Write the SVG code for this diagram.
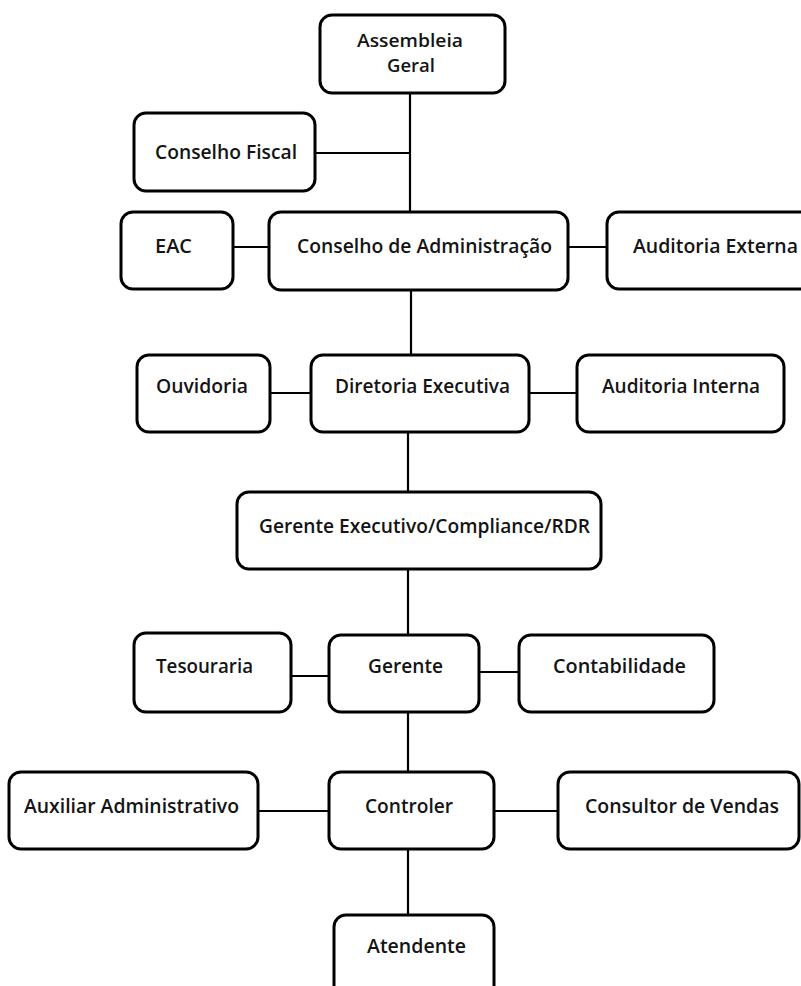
<svg xmlns="http://www.w3.org/2000/svg" width="801" height="986" viewBox="0 0 801 986">
<style>
.box{fill:#fff;stroke:#000;stroke-width:3}
.lbl{font-family:"Open Sans","Liberation Sans",sans-serif;font-weight:600;font-size:20px;fill:#141414}
.sm{font-size:18px}
.con line{stroke:#000;stroke-width:2.2}
</style>
<rect width="801" height="986" fill="#fff"/>
<g class="con" id="connectors">
<line x1="410" y1="93" x2="410" y2="212"/>
<line x1="315" y1="153" x2="410" y2="153"/>
<line x1="233" y1="247" x2="269" y2="247"/>
<line x1="568" y1="247" x2="607" y2="247"/>
<line x1="411" y1="290" x2="411" y2="355"/>
<line x1="270" y1="393" x2="311" y2="393"/>
<line x1="529" y1="393" x2="577" y2="393"/>
<line x1="408" y1="432" x2="408" y2="492"/>
<line x1="408" y1="569" x2="408" y2="635"/>
<line x1="291" y1="676" x2="329" y2="676"/>
<line x1="479" y1="672" x2="519" y2="672"/>
<line x1="408" y1="712" x2="408" y2="772"/>
<line x1="257" y1="811" x2="329" y2="811"/>
<line x1="494" y1="811" x2="558" y2="811"/>
<line x1="408" y1="849" x2="408" y2="915"/>
</g>
<g id="assembleia"><rect class="box" x="320" y="15" width="185" height="78" rx="12"/><text class="lbl sm" x="357" y="47" textLength="106" lengthAdjust="spacingAndGlyphs">Assembleia</text><text class="lbl sm" x="387" y="72" textLength="48" lengthAdjust="spacingAndGlyphs">Geral</text></g>
<g id="conselho-fiscal"><rect class="box" x="134" y="113" width="181" height="78" rx="12"/><text class="lbl" x="155" y="159" textLength="142" lengthAdjust="spacingAndGlyphs">Conselho Fiscal</text></g>
<g id="eac"><rect class="box" x="121" y="212" width="112" height="77" rx="12"/><text class="lbl" x="155" y="253" textLength="37" lengthAdjust="spacingAndGlyphs">EAC</text></g>
<g id="conselho-admin"><rect class="box" x="269" y="212" width="299" height="78" rx="12"/><text class="lbl" x="297" y="253" textLength="255" lengthAdjust="spacingAndGlyphs">Conselho de Administração</text></g>
<g id="auditoria-externa"><rect class="box" x="607" y="212" width="210" height="77" rx="12"/><text class="lbl" x="633" y="253" textLength="165" lengthAdjust="spacingAndGlyphs">Auditoria Externa</text></g>
<g id="ouvidoria"><rect class="box" x="137" y="355" width="133" height="77" rx="12"/><text class="lbl" x="156" y="393" textLength="92" lengthAdjust="spacingAndGlyphs">Ouvidoria</text></g>
<g id="diretoria"><rect class="box" x="311" y="355" width="218" height="77" rx="12"/><text class="lbl" x="335" y="393" textLength="175" lengthAdjust="spacingAndGlyphs">Diretoria Executiva</text></g>
<g id="auditoria-interna"><rect class="box" x="577" y="355" width="207" height="77" rx="12"/><text class="lbl" x="602" y="393" textLength="158" lengthAdjust="spacingAndGlyphs">Auditoria Interna</text></g>
<g id="gerente-executivo"><rect class="box" x="237" y="492" width="364" height="77" rx="12"/><text class="lbl" x="259" y="533" textLength="331" lengthAdjust="spacingAndGlyphs">Gerente Executivo/Compliance/RDR</text></g>
<g id="tesouraria"><rect class="box" x="134" y="633" width="157" height="79" rx="12"/><text class="lbl" x="156" y="673" textLength="97" lengthAdjust="spacingAndGlyphs">Tesouraria</text></g>
<g id="gerente"><rect class="box" x="329" y="635" width="150" height="77" rx="12"/><text class="lbl" x="368" y="673" textLength="75" lengthAdjust="spacingAndGlyphs">Gerente</text></g>
<g id="contabilidade"><rect class="box" x="519" y="635" width="195" height="77" rx="12"/><text class="lbl" x="553" y="673" textLength="133" lengthAdjust="spacingAndGlyphs">Contabilidade</text></g>
<g id="auxiliar"><rect class="box" x="9" y="772" width="249" height="77" rx="12"/><text class="lbl" x="24" y="813" textLength="215" lengthAdjust="spacingAndGlyphs">Auxiliar Administrativo</text></g>
<g id="controler"><rect class="box" x="329" y="772" width="165" height="77" rx="12"/><text class="lbl" x="365" y="813" textLength="88" lengthAdjust="spacingAndGlyphs">Controler</text></g>
<g id="consultor"><rect class="box" x="558" y="772" width="241" height="77" rx="12"/><text class="lbl" x="585" y="813" textLength="194" lengthAdjust="spacingAndGlyphs">Consultor de Vendas</text></g>
<g id="atendente"><rect class="box" x="334" y="915" width="160" height="90" rx="12"/><text class="lbl" x="367" y="953" textLength="99" lengthAdjust="spacingAndGlyphs">Atendente</text></g>
</svg>
